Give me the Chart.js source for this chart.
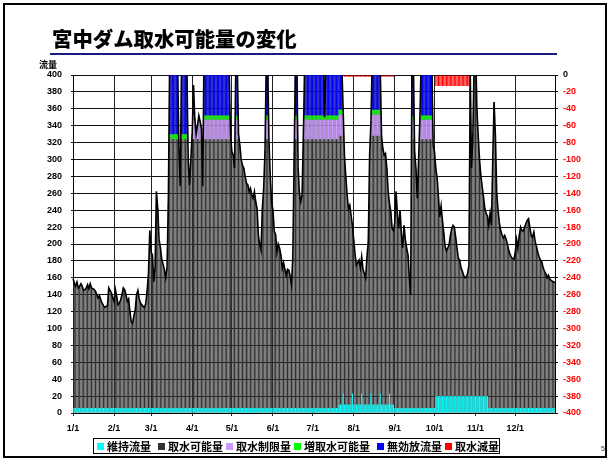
<!DOCTYPE html>
<html lang="ja">
<head>
<meta charset="utf-8">
<title>宮中ダム取水可能量の変化</title>
<script src="https://cdn.jsdelivr.net/npm/chart.js@4.4.1/dist/chart.umd.min.js"></script>
<style>
  html, body { margin: 0; padding: 0; background: #fff; }
  #page { position: relative; width: 610px; height: 461px; overflow: hidden; background: #fff;
          font-family: "Noto Sans CJK JP", "Noto Sans", sans-serif; }
  #frame { position: absolute; left: 3px; top: 3px; width: 604px; height: 455px;
           border: 2.5px solid #000; box-sizing: border-box; }
  #title { position: absolute; left: 52px; top: 27px; font-size: 20.4px; line-height: 22px;
           font-weight: 900; color: #000; letter-spacing: 0; white-space: nowrap; }
  #rule { position: absolute; left: 50px; top: 53px; width: 507px; height: 2px; background: #1a1a80; }
  #unit { position: absolute; left: 39px; top: 60px; font-size: 9px; line-height: 10px; font-weight: 700; }
  #chart { position: absolute; left: 0; top: 0; }
  #legend { position: absolute; left: 93px; top: 438px; width: 407px; height: 16px;
            border: 1px solid #000; box-sizing: border-box; }
  .item { position: absolute; top: 0; height: 14px; display: flex; align-items: center;
          font-size: 11px; font-weight: 700; white-space: nowrap; }
  .swatch { width: 7px; height: 7px; margin-right: 3px; }
  #pageno { position: absolute; left: 601px; top: 445px; font-size: 7px; font-family: "Liberation Sans", sans-serif; color: #333; }
</style>
</head>
<body>
<div id="page">
  <canvas id="chart" width="610" height="461"></canvas>
  <div id="frame"></div>
  <div id="title">宮中ダム取水可能量の変化</div>
  <div id="rule"></div>
  <div id="unit">流量</div>
  <div id="legend"></div>
  <div id="pageno">5</div>
</div>
<script>
// ---- calendar (non-leap year, daily categories "M/D") ----
const monthDays = [31, 28, 31, 30, 31, 30, 31, 31, 30, 31, 30, 31];
const dayLabels = [];
const monthStartIdx = [];
monthDays.forEach((n, m) => {
  monthStartIdx.push(dayLabels.length);
  for (let d = 1; d <= n; d++) dayLabels.push((m + 1) + '/' + d);
});

// ---- daily river flow at the dam (m3/s), one row per month ----
const riverFlow = [
  159,154,150,155,148,150,153,150,145,146,148,152,147,153,148,147,146,144,140,136,139,134,130,127,125,126,127,148,145,142,136,
  132,146,138,128,130,134,140,148,146,140,132,135,120,108,106,115,122,140,145,135,130,128,126,125,130,145,165,216,
  190,187,155,172,262,242,205,196,182,176,170,160,172,250,420,460,480,450,440,430,410,312,268,420,440,430,420,405,300,270,300,
  330,388,348,330,340,352,345,336,268,440,460,470,480,470,460,450,440,450,460,470,460,450,440,430,420,410,410,420,400,328,
  309,305,290,420,420,330,317,300,293,290,280,272,270,262,266,258,254,262,250,242,210,200,193,242,266,310,420,420,321,280,250,
  240,215,211,190,200,195,187,171,178,170,163,170,169,162,152,185,300,420,420,290,260,250,258,330,420,440,450,460,450,440,
  450,460,470,460,450,440,450,440,420,350,420,440,460,470,460,450,440,430,450,440,430,420,410,360,305,280,258,242,246,234,222,
  205,188,175,178,181,172,185,170,165,160,185,203,305,344,420,440,450,440,430,420,410,328,313,305,307,290,262,248,238,218,216,
  225,262,235,218,240,212,195,222,205,195,187,160,140,420,420,309,289,254,300,350,420,440,450,460,450,440,430,420,410,317,
  309,289,278,255,232,245,228,213,197,192,195,199,210,218,222,220,208,195,183,181,172,168,163,160,161,165,175,400,290,330,420,
  440,360,328,300,281,268,256,242,236,233,222,236,222,300,368,328,260,240,225,216,211,207,210,206,200,193,188,184,183,182,
  190,205,195,210,220,216,215,220,224,228,230,220,210,208,214,203,197,190,185,181,179,172,168,165,160,163,159,157,156,155,154
];

// ---- 維持流量 (maintenance flow), one row per month ----
const maintFlow = [
  6,6,6,6,6,6,6,6,6,6,6,6,6,6,6,6,6,6,6,6,6,6,6,6,6,6,6,6,6,6,6,
  6,6,6,6,6,6,6,6,6,6,6,6,6,6,6,6,6,6,6,6,6,6,6,6,6,6,6,6,
  6,6,6,6,6,6,6,6,6,6,6,6,6,6,6,6,6,6,6,6,6,6,6,6,6,6,6,6,6,6,6,
  6,6,6,6,6,6,6,6,6,6,6,6,6,6,6,6,6,6,6,6,6,6,6,6,6,6,6,6,6,6,
  6,6,6,6,6,6,6,6,6,6,6,6,6,6,6,6,6,6,6,6,6,6,6,6,6,6,6,6,6,6,6,
  6,6,6,6,6,6,6,6,6,6,6,6,6,6,6,6,6,6,6,6,6,6,6,6,6,6,6,6,6,6,
  6,6,6,6,6,6,6,6,6,6,6,6,6,6,6,6,6,6,6,6,10,10,10,23,10,10,10,10,10,10,23,
  10,10,10,10,10,10,23,10,10,10,10,10,10,23,10,10,10,10,10,10,23,10,10,10,10,10,10,23,10,10,10,
  6,6,6,6,6,6,6,6,6,6,6,6,6,6,6,6,6,6,6,6,6,6,6,6,6,6,6,6,6,6,
  6,20,20,20,20,20,20,20,20,20,20,20,20,20,20,20,20,20,20,20,20,20,20,20,20,20,20,20,20,20,20,
  20,20,20,20,20,20,20,20,20,20,6,6,6,6,6,6,6,6,6,6,6,6,6,6,6,6,6,6,6,6,
  6,6,6,6,6,6,6,6,6,6,6,6,6,6,6,6,6,6,6,6,6,6,6,6,6,6,6,6,6,6,6
];

// ---- 取水制限量 band [day, from, to] ----
const restrictBand = [
  ['4/1',324,330],['4/2',324,347],['4/3',324,347],['4/4',324,330],['4/5',324,340],['4/6',324,347],['4/7',324,345],['4/8',324,336],
  ['4/10',324,347],['4/11',324,347],['4/12',324,347],['4/13',324,347],['4/14',324,347],['4/15',324,347],['4/16',324,347],
  ['4/17',324,347],['4/18',324,347],['4/19',324,347],['4/20',324,347],['4/21',324,347],['4/22',324,347],['4/23',324,347],
  ['4/24',324,347],['4/25',324,347],['4/26',324,347],['4/27',324,347],['4/28',324,347],['4/29',324,347],['4/30',324,328],
  ['5/4',324,347],['5/5',324,347],['5/6',324,330],['5/27',324,347],['5/28',324,347],
  ['6/18',324,347],['6/19',324,347],['6/24',324,330],['6/25',324,347],['6/26',324,347],['6/27',324,347],['6/28',324,347],
  ['6/29',324,347],['6/30',324,347],
  ['7/1',324,347],['7/2',324,347],['7/3',324,347],['7/4',324,347],['7/5',324,347],['7/6',324,347],['7/7',324,347],
  ['7/8',324,347],['7/9',324,347],['7/10',324,347],['7/11',324,347],['7/12',324,347],['7/13',324,347],['7/14',324,347],
  ['7/15',324,347],['7/16',324,347],['7/17',324,347],['7/18',324,347],['7/19',324,347],['7/20',324,347],
  ['7/21',328,353],['7/22',328,353],['7/23',328,353],['7/24',328,353],
  ['8/14',328,344],['8/15',328,353],['8/16',328,353],['8/17',328,353],['8/18',328,353],['8/19',328,353],['8/20',328,353],['8/21',328,353],
  ['9/14',324,347],['9/15',324,347],['9/20',324,347],['9/21',324,347],['9/22',324,347],['9/23',324,347],['9/24',324,347],
  ['9/25',324,347],['9/26',324,347],['9/27',324,347],['9/28',324,347],['9/29',324,347],
  ['10/28',338,362]
];

// ---- 増取水可能量 band [day, from, to] ----
const extraBand = [
  ['3/15',324,330],['3/16',324,330],['3/17',324,330],['3/18',324,330],['3/19',324,330],['3/20',324,330],['3/21',324,330],
  ['3/24',324,330],['3/25',324,330],['3/26',324,330],['3/27',324,330],['3/28',324,330],
  ['4/2',347,352],['4/3',347,348],['4/6',347,352],
  ['4/10',347,352],['4/11',347,352],['4/12',347,352],['4/13',347,352],['4/14',347,352],['4/15',347,352],['4/16',347,352],
  ['4/17',347,352],['4/18',347,352],['4/19',347,352],['4/20',347,352],['4/21',347,352],['4/22',347,352],['4/23',347,352],
  ['4/24',347,352],['4/25',347,352],['4/26',347,352],['4/27',347,352],['4/28',347,352],['4/29',347,352],
  ['5/4',347,352],['5/5',347,352],['5/27',347,352],['5/28',347,352],
  ['6/18',347,352],['6/19',347,352],['6/25',347,352],['6/26',347,352],['6/27',347,352],['6/28',347,352],['6/29',347,352],['6/30',347,352],
  ['7/1',347,352],['7/2',347,352],['7/3',347,352],['7/4',347,352],['7/5',347,352],['7/6',347,352],['7/7',347,352],
  ['7/8',347,352],['7/9',347,352],['7/10',347,350],['7/11',347,352],['7/12',347,352],['7/13',347,352],['7/14',347,352],
  ['7/15',347,352],['7/16',347,352],['7/17',347,352],['7/18',347,352],['7/19',347,352],['7/20',347,352],
  ['7/21',353,359],['7/22',353,359],['7/23',353,359],['7/24',353,359],
  ['8/15',353,359],['8/16',353,359],['8/17',353,359],['8/18',353,359],['8/19',353,359],['8/20',353,359],['8/21',353,359],
  ['9/14',347,352],['9/15',347,352],['9/20',347,350],['9/21',347,352],['9/22',347,352],['9/23',347,352],['9/24',347,352],
  ['9/25',347,352],['9/26',347,352],['9/27',347,352],['9/28',347,352],['9/29',347,352],
  ['10/28',362,368]
];

// ---- 無効放流量 band [day, from, to] ----
const spillBand = [
  ['3/15',330,420],['3/16',330,460],['3/17',330,480],['3/18',330,450],['3/19',330,440],['3/20',330,430],['3/21',330,410],
  ['3/24',330,420],['3/25',330,440],['3/26',330,430],['3/27',330,420],['3/28',330,405],
  ['4/2',352,388],
  ['4/10',352,440],['4/11',352,460],['4/12',352,470],['4/13',352,480],['4/14',352,470],['4/15',352,460],['4/16',352,450],
  ['4/17',352,440],['4/18',352,450],['4/19',352,460],['4/20',352,470],['4/21',352,460],['4/22',352,450],['4/23',352,440],
  ['4/24',352,430],['4/25',352,420],['4/26',352,410],['4/27',352,410],['4/28',352,420],['4/29',352,400],
  ['5/4',352,420],['5/5',352,420],['5/27',352,420],['5/28',352,420],
  ['6/18',352,420],['6/19',352,420],['6/25',352,420],['6/26',352,440],['6/27',352,450],['6/28',352,460],['6/29',352,450],['6/30',352,440],
  ['7/1',352,450],['7/2',352,460],['7/3',352,470],['7/4',352,460],['7/5',352,450],['7/6',352,440],['7/7',352,450],
  ['7/8',352,440],['7/9',352,420],['7/11',352,420],['7/12',352,440],['7/13',352,460],['7/14',352,470],['7/15',352,460],
  ['7/16',352,450],['7/17',352,440],['7/18',352,430],['7/19',352,450],['7/20',352,440],
  ['7/21',359,430],['7/22',359,420],['7/23',359,410],['7/24',359,360],
  ['8/15',359,420],['8/16',359,440],['8/17',359,450],['8/18',359,440],['8/19',359,430],['8/20',359,420],['8/21',359,410],
  ['9/14',352,420],['9/15',352,420],['9/21',352,420],['9/22',352,440],['9/23',352,450],['9/24',352,460],['9/25',352,450],
  ['9/26',352,440],['9/27',352,430],['9/28',352,420],['9/29',352,410],
  ['10/28',368,400]
];

// ---- 取水減量 (right axis, negative) [day, value] ----
const cutFlow = [
  ['7/25',-2],['7/26',-2],['7/27',-2],['7/28',-2],['7/29',-2],['7/30',-2],['7/31',-2],
  ['8/1',-2],['8/2',-2],['8/3',-2],['8/4',-2],['8/5',-2],['8/6',-2],['8/7',-2],['8/8',-2],['8/9',-2],['8/10',-2],
  ['8/11',-2],['8/12',-2],['8/13',-2],['8/14',-2],
  ['8/22',-2],['8/23',-2],['8/24',-2],['8/25',-2],['8/26',-2],['8/27',-2],['8/28',-2],['8/29',-2],['8/30',-2],['8/31',-2],
  ['10/2',-13],['10/3',-13],['10/4',-13],['10/5',-13],['10/6',-13],['10/7',-13],['10/8',-13],['10/9',-13],['10/10',-13],
  ['10/11',-13],['10/12',-13],['10/13',-13],['10/14',-13],['10/15',-13],['10/16',-13],['10/17',-13],['10/18',-13],
  ['10/19',-13],['10/20',-13],['10/21',-13],['10/22',-13],['10/23',-13],['10/24',-13],['10/25',-13],['10/26',-13],['10/27',-13]
];

const leftTicks = { min: 0, max: 400, step: 20 };
const rightTicks = { min: -400, max: 0, step: 20 };

const band = list => list.map(([d, lo, hi]) => ({ x: d, y: [lo, hi] }));
const point = list => list.map(([d, v]) => ({ x: d, y: v }));

const series = [
  { label: '維持流量',     color: '#00FFFF', data: maintFlow,          order: 1 },
  { label: '取水可能量',   color: '#333333', data: riverFlow,          order: 4 },
  { label: '取水制限量',   color: '#CC99FF', data: band(restrictBand), order: 3 },
  { label: '増取水可能量', color: '#00FF00', data: band(extraBand),    order: 3 },
  { label: '無効放流量',   color: '#0000FF', data: band(spillBand),    order: 3 },
  { label: '取水減量',     color: '#FF0000', data: point(cutFlow),     order: 2, yAxisID: 'y2' }
];

const tickFont = { family: '"Liberation Sans", Arial, sans-serif', size: 9, weight: 'bold' };

const datasets = series.map(s => ({
  type: 'bar',
  label: s.label,
  data: s.data,
  backgroundColor: s.color,
  borderWidth: 0,
  order: s.order,
  yAxisID: s.yAxisID || 'y'
}));
datasets.push({
  type: 'line',
  label: '河川流量',
  data: riverFlow,
  borderColor: '#000',
  borderWidth: 1.6,
  pointRadius: 0,
  tension: 0,
  fill: false,
  order: 0,
  yAxisID: 'y'
});

new Chart(document.getElementById('chart'), {
  data: { labels: dayLabels, datasets },
  options: {
    responsive: false,
    animation: false,
    events: [],
    layout: { padding: { left: 20, right: 20, top: 75, bottom: 28 } },
    plugins: { legend: { display: false }, tooltip: { enabled: false } },
    datasets: { bar: { grouped: false, categoryPercentage: 1, barPercentage: 0.8 } },
    scales: {
      x: {
        type: 'category',
        offset: false,
        grid: { offset: false, color: '#222', lineWidth: 1, tickLength: 3 },
        border: { color: '#000', width: 1 },
        ticks: {
          autoSkip: false, maxRotation: 0, minRotation: 0, padding: 7, color: '#000', font: tickFont,
          callback: (v, i) => monthStartIdx.includes(i) ? dayLabels[i] : null
        },
        afterFit: s => { s.height = 20; }
      },
      y: {
        position: 'left',
        min: leftTicks.min, max: leftTicks.max,
        grid: { color: '#111', lineWidth: 1, tickLength: 2 },
        border: { color: '#000', width: 1 },
        ticks: { stepSize: leftTicks.step, padding: 9, color: '#000', font: tickFont },
        afterFit: s => { s.width = 53; }
      },
      y2: {
        position: 'right',
        min: rightTicks.min, max: rightTicks.max,
        grid: { drawOnChartArea: false, color: '#000', tickLength: 3 },
        border: { color: '#000', width: 1 },
        ticks: { stepSize: rightTicks.step, padding: 5, font: tickFont,
                 color: c => c.tick.value === 0 ? '#000' : '#FF0000' },
        afterFit: s => { s.width = 35; }
      }
    }
  }
});

// legend row built from the same series definitions
const legendX = [97, 158, 226, 294, 377, 445];
const legend = document.getElementById('legend');
series.forEach((s, i) => {
  const item = document.createElement('div');
  item.className = 'item';
  item.style.left = (legendX[i] - 94) + 'px';
  const sw = document.createElement('span');
  sw.className = 'swatch';
  sw.style.background = s.color;
  item.appendChild(sw);
  item.appendChild(document.createTextNode(s.label));
  legend.appendChild(item);
});
</script>
</body>
</html>
